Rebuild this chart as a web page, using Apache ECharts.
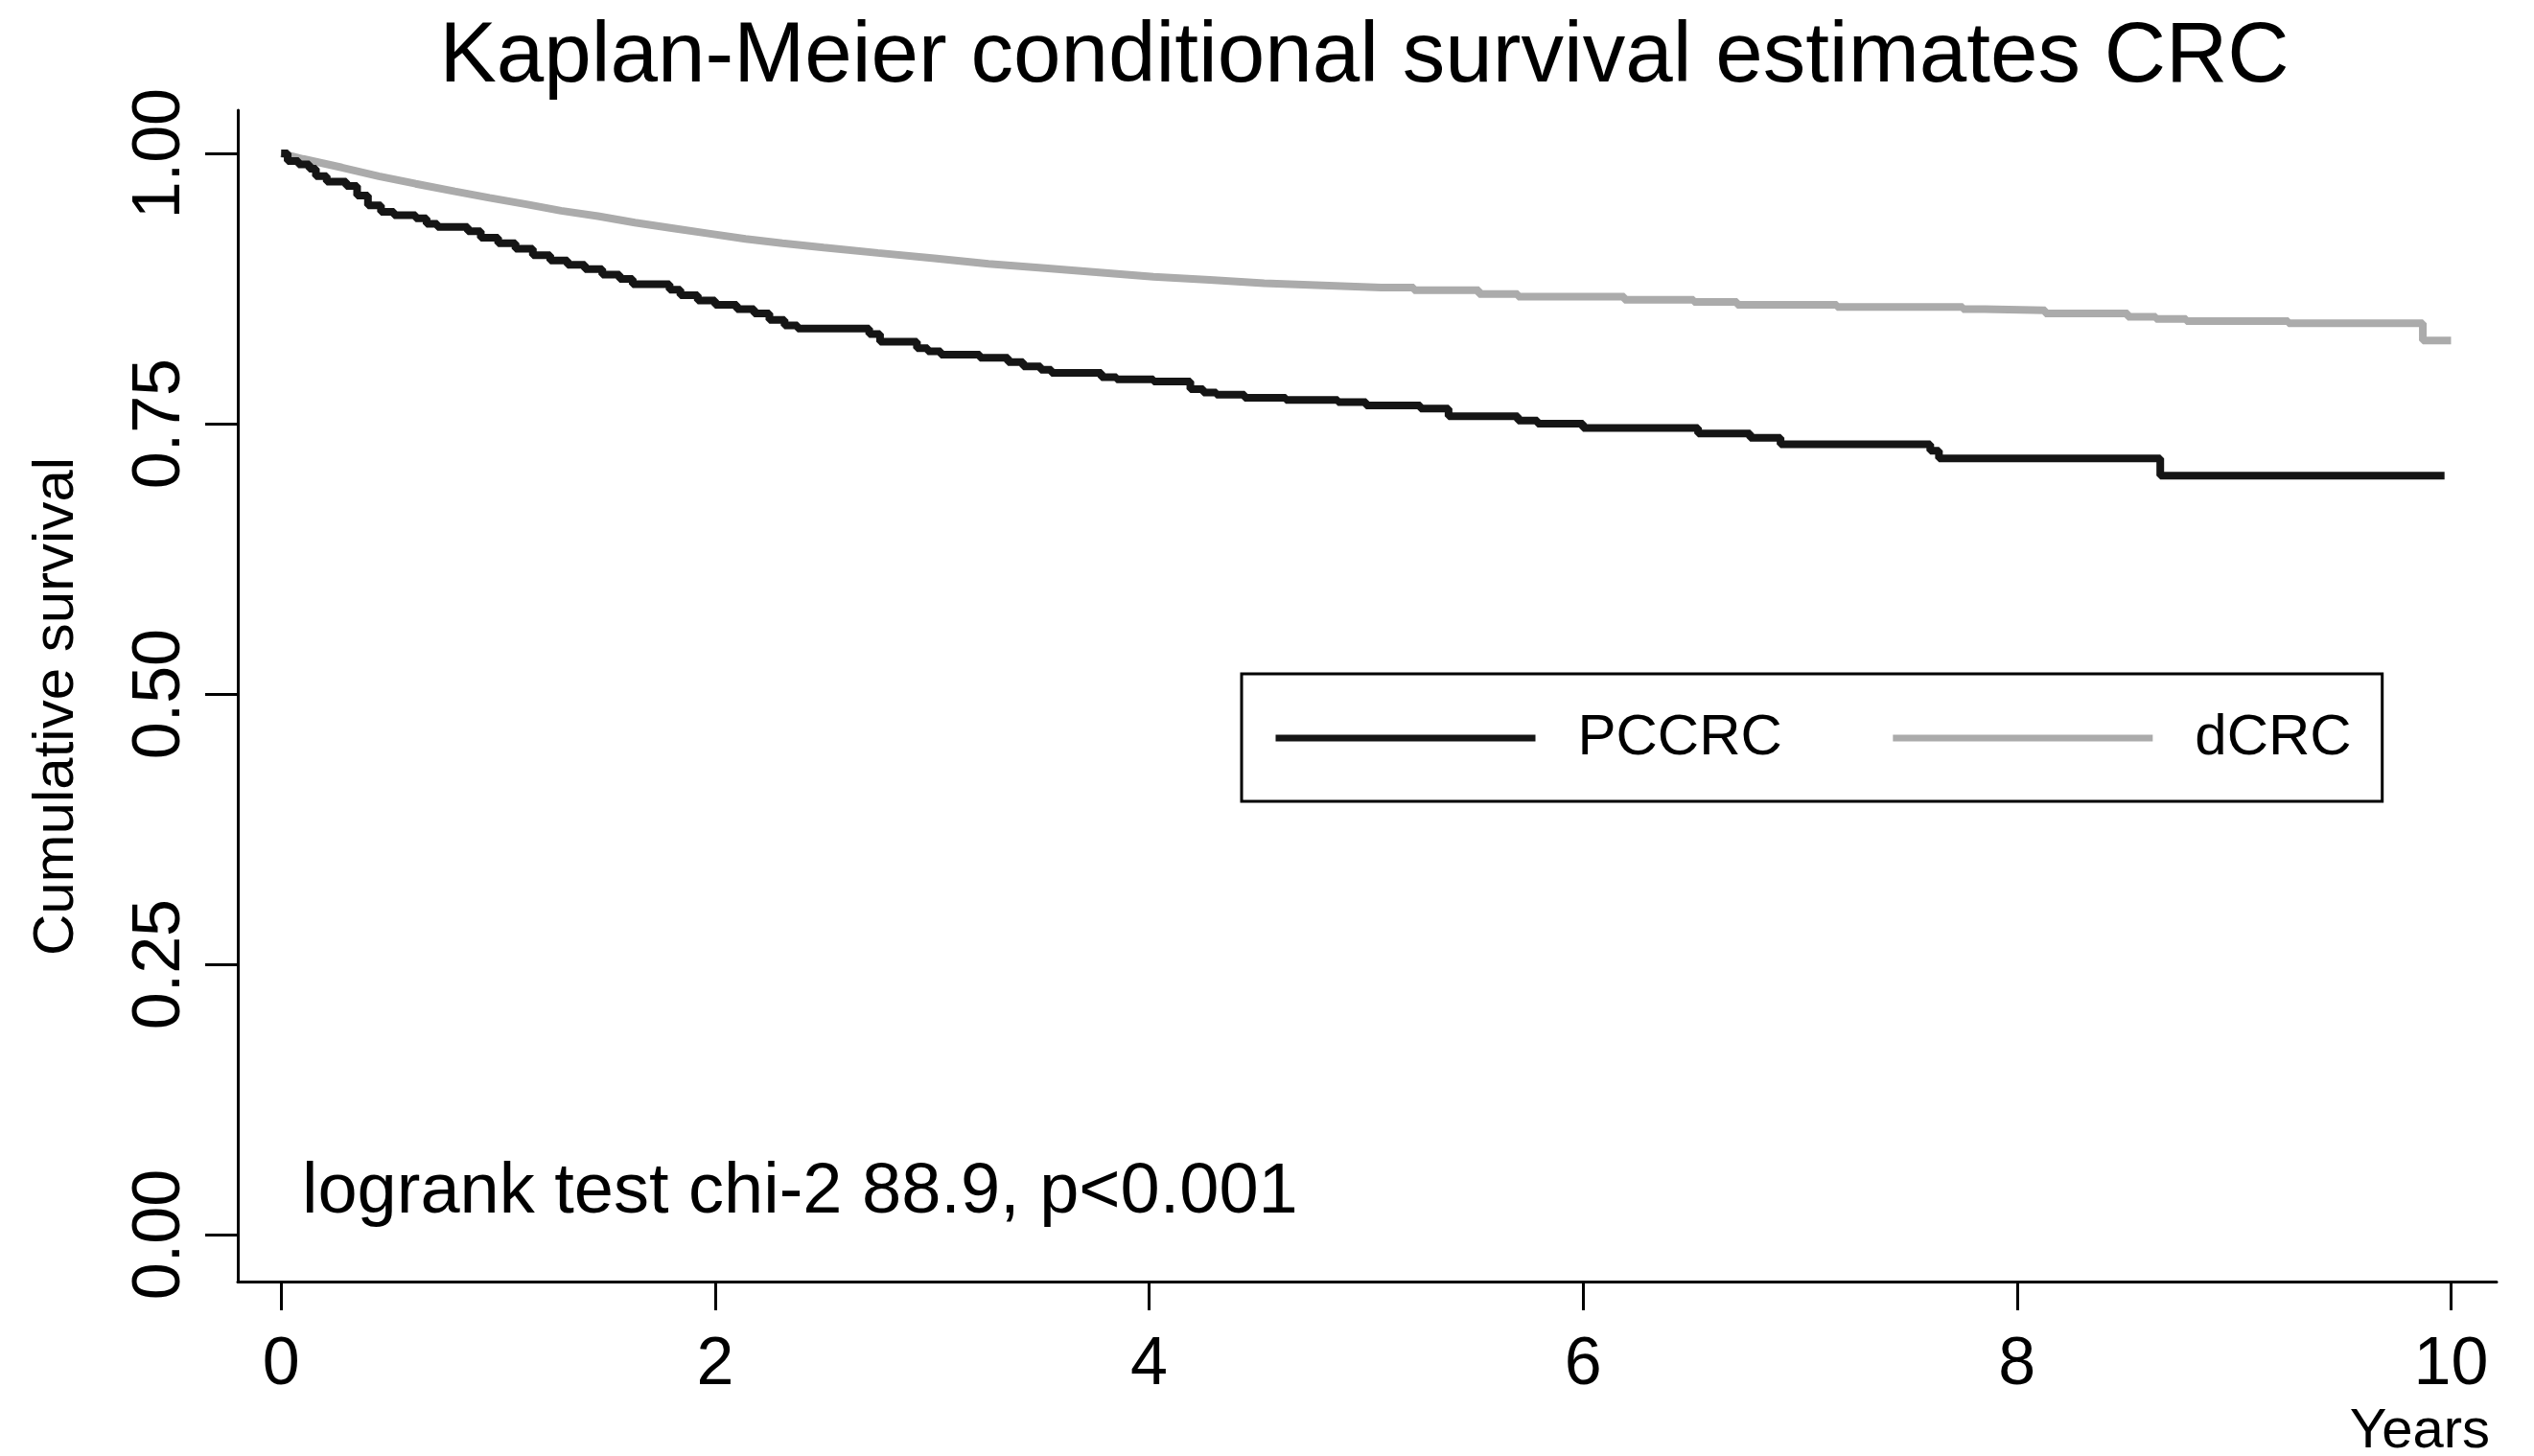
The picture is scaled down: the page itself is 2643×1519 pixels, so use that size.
<!DOCTYPE html>
<html>
<head>
<meta charset="utf-8">
<script src="https://cdn.jsdelivr.net/npm/echarts@6/dist/echarts.min.js"></script>
<style>
html,body{margin:0;padding:0;background:#fff;}
#chart{width:2643px;height:1519px;}
</style>
</head>
<body>
<div id="chart"></div>
<script>
// ---- data ----
const titleText = 'Kaplan-Meier conditional survival estimates CRC';
const yAxisTitle = 'Cumulative survival';
const xAxisTitle = 'Years';
const noteText = 'logrank test chi-2 88.9, p<0.001';
const seriesNames = ['PCCRC', 'dCRC'];
const xTicks = [0, 2, 4, 6, 8, 10];
const yTicks = [0, 0.25, 0.5, 0.75, 1];

// PCCRC: event times (years) and survival after each step
const pccrcTime = [0, 0.03, 0.08, 0.13, 0.16, 0.21, 0.30, 0.35, 0.40, 0.46, 0.52, 0.62, 0.67, 0.72, 0.86, 0.92,
  1.00, 1.08, 1.16, 1.24, 1.32, 1.40, 1.48, 1.56, 1.62, 1.79, 1.84, 1.92, 2.00, 2.10, 2.18, 2.25, 2.32, 2.38,
  2.71, 2.76, 2.93, 2.98, 3.04, 3.22, 3.35, 3.42, 3.50, 3.55, 3.78, 3.85, 4.02, 4.19, 4.25, 4.31, 4.44, 4.63,
  4.87, 5.00, 5.25, 5.38, 5.70, 5.79, 6.00, 6.53, 6.77, 6.91, 7.60, 7.64, 8.66, 9.97];
const pccrcSurv = [1.000, 0.993, 0.990, 0.986, 0.979, 0.974, 0.970, 0.961, 0.952, 0.946, 0.943, 0.940, 0.935, 0.932, 0.928, 0.922,
  0.917, 0.912, 0.906, 0.901, 0.897, 0.893, 0.888, 0.884, 0.879, 0.874, 0.869, 0.864, 0.860, 0.856, 0.852, 0.846, 0.841, 0.838,
  0.833, 0.826, 0.820, 0.817, 0.814, 0.811, 0.807, 0.803, 0.800, 0.797, 0.793, 0.791, 0.789, 0.782, 0.779, 0.777, 0.774, 0.772,
  0.770, 0.767, 0.764, 0.757, 0.753, 0.750, 0.746, 0.741, 0.737, 0.731, 0.725, 0.718, 0.702, 0.702];

// dCRC: smooth early part, then small steps (a repeated time marks a drop)
const dcrcTime = [0, 0.10, 0.28, 0.45, 0.62, 0.80, 0.96, 1.13, 1.29, 1.46, 1.63, 1.80, 1.97, 2.14, 2.31, 2.50, 2.75,
  3.01, 3.26, 3.52, 3.77, 4.02, 4.28, 4.53, 4.80, 5.07,
  5.22, 5.22, 5.52, 5.52, 5.70, 5.70, 6.19, 6.19, 6.51, 6.51, 6.71, 6.71, 7.17, 7.17, 7.75, 7.75, 7.85, 7.85,
  8.13, 8.13, 8.51, 8.51, 8.64, 8.64, 8.78, 8.78, 9.25, 9.25, 9.87, 9.87, 10.00];
const dcrcSurv = [1.000, 0.995, 0.987, 0.979, 0.972, 0.965, 0.959, 0.953, 0.947, 0.942, 0.936, 0.931, 0.926, 0.921, 0.917, 0.913, 0.908,
  0.903, 0.898, 0.894, 0.890, 0.886, 0.883, 0.880, 0.878, 0.876,
  0.876, 0.8735, 0.8735, 0.870, 0.870, 0.8676, 0.8676, 0.8647, 0.8647, 0.8626, 0.8626, 0.860, 0.860, 0.858, 0.858, 0.856, 0.856, 0.855,
  0.855, 0.852, 0.852, 0.849, 0.849, 0.847, 0.847, 0.845, 0.845, 0.843, 0.843, 0.827, 0.827];

// ---- chart ----
const FONT = "'Liberation Sans', Arial, Helvetica, sans-serif";
const pairs = (t, s) => t.map((v, i) => [v, s[i]]);
const chart = echarts.init(document.getElementById('chart'), null, {renderer: 'canvas'});

chart.setOption({
  animation: false,
  backgroundColor: '#ffffff',
  title: {
    text: titleText,
    left: 1423,
    top: 16,
    textAlign: 'center',
    padding: 0,
    textStyle: {fontFamily: FONT, fontSize: 89, fontWeight: 'normal', color: '#000'}
  },
  grid: {left: 248, right: 39, top: 115, bottom: 182, containLabel: false},
  legend: {
    data: seriesNames,
    left: 1295,
    top: 703,
    orient: 'horizontal',
    padding: [37, 32, 36, 32],
    borderColor: '#000',
    borderWidth: 3,
    itemWidth: 271,
    itemHeight: 20,
    itemGap: 112,
    selectedMode: false,
    itemStyle: {opacity: 0},
    lineStyle: {width: 7},
    textStyle: {fontFamily: FONT, fontSize: 60, color: '#000', padding: [0, 0, 0, 39]}
  },
  xAxis: {
    type: 'value',
    min: -0.2,
    max: 10.21,
    axisLine: {show: true, onZero: false, lineStyle: {color: '#000', width: 3}},
    axisTick: {show: true, customValues: xTicks, length: 30, lineStyle: {color: '#000', width: 3}},
    axisLabel: {show: true, customValues: xTicks, fontFamily: FONT, fontSize: 70, color: '#000', margin: 53},
    splitLine: {show: false}
  },
  yAxis: {
    type: 'value',
    min: -0.0434,
    max: 1.04,
    axisLine: {show: true, onZero: false, lineStyle: {color: '#000', width: 3}},
    axisTick: {show: true, customValues: yTicks, length: 34, lineStyle: {color: '#000', width: 3}},
    axisLabel: {show: true, customValues: yTicks, rotate: 90, fontFamily: FONT, fontSize: 70, color: '#000', margin: 45,
      formatter: v => Number(v).toFixed(2)},
    splitLine: {show: false}
  },
  graphic: [
    {type: 'text', x: 59, y: 737, rotation: Math.PI / 2,
     style: {text: yAxisTitle, fontFamily: FONT, fontSize: 60, fill: '#000', align: 'center', verticalAlign: 'middle'}},
    {type: 'text', x: 2597, y: 1494,
     style: {text: xAxisTitle, fontFamily: FONT, fontSize: 58, fill: '#000', align: 'right', verticalAlign: 'middle'}},
    {type: 'text', x: 315, y: 1245,
     style: {text: noteText, fontFamily: FONT, fontSize: 74, fill: '#000', align: 'left', verticalAlign: 'middle'}}
  ],
  series: [
    {name: seriesNames[0], type: 'line', step: 'end', symbol: 'none', z: 3,
     data: pairs(pccrcTime, pccrcSurv),
     lineStyle: {color: '#151515', width: 8}, itemStyle: {color: '#151515'}},
    {name: seriesNames[1], type: 'line', symbol: 'none', z: 2,
     data: pairs(dcrcTime, dcrcSurv),
     lineStyle: {color: '#ababab', width: 8}, itemStyle: {color: '#ababab'}}
  ]
});
</script>
</body>
</html>
